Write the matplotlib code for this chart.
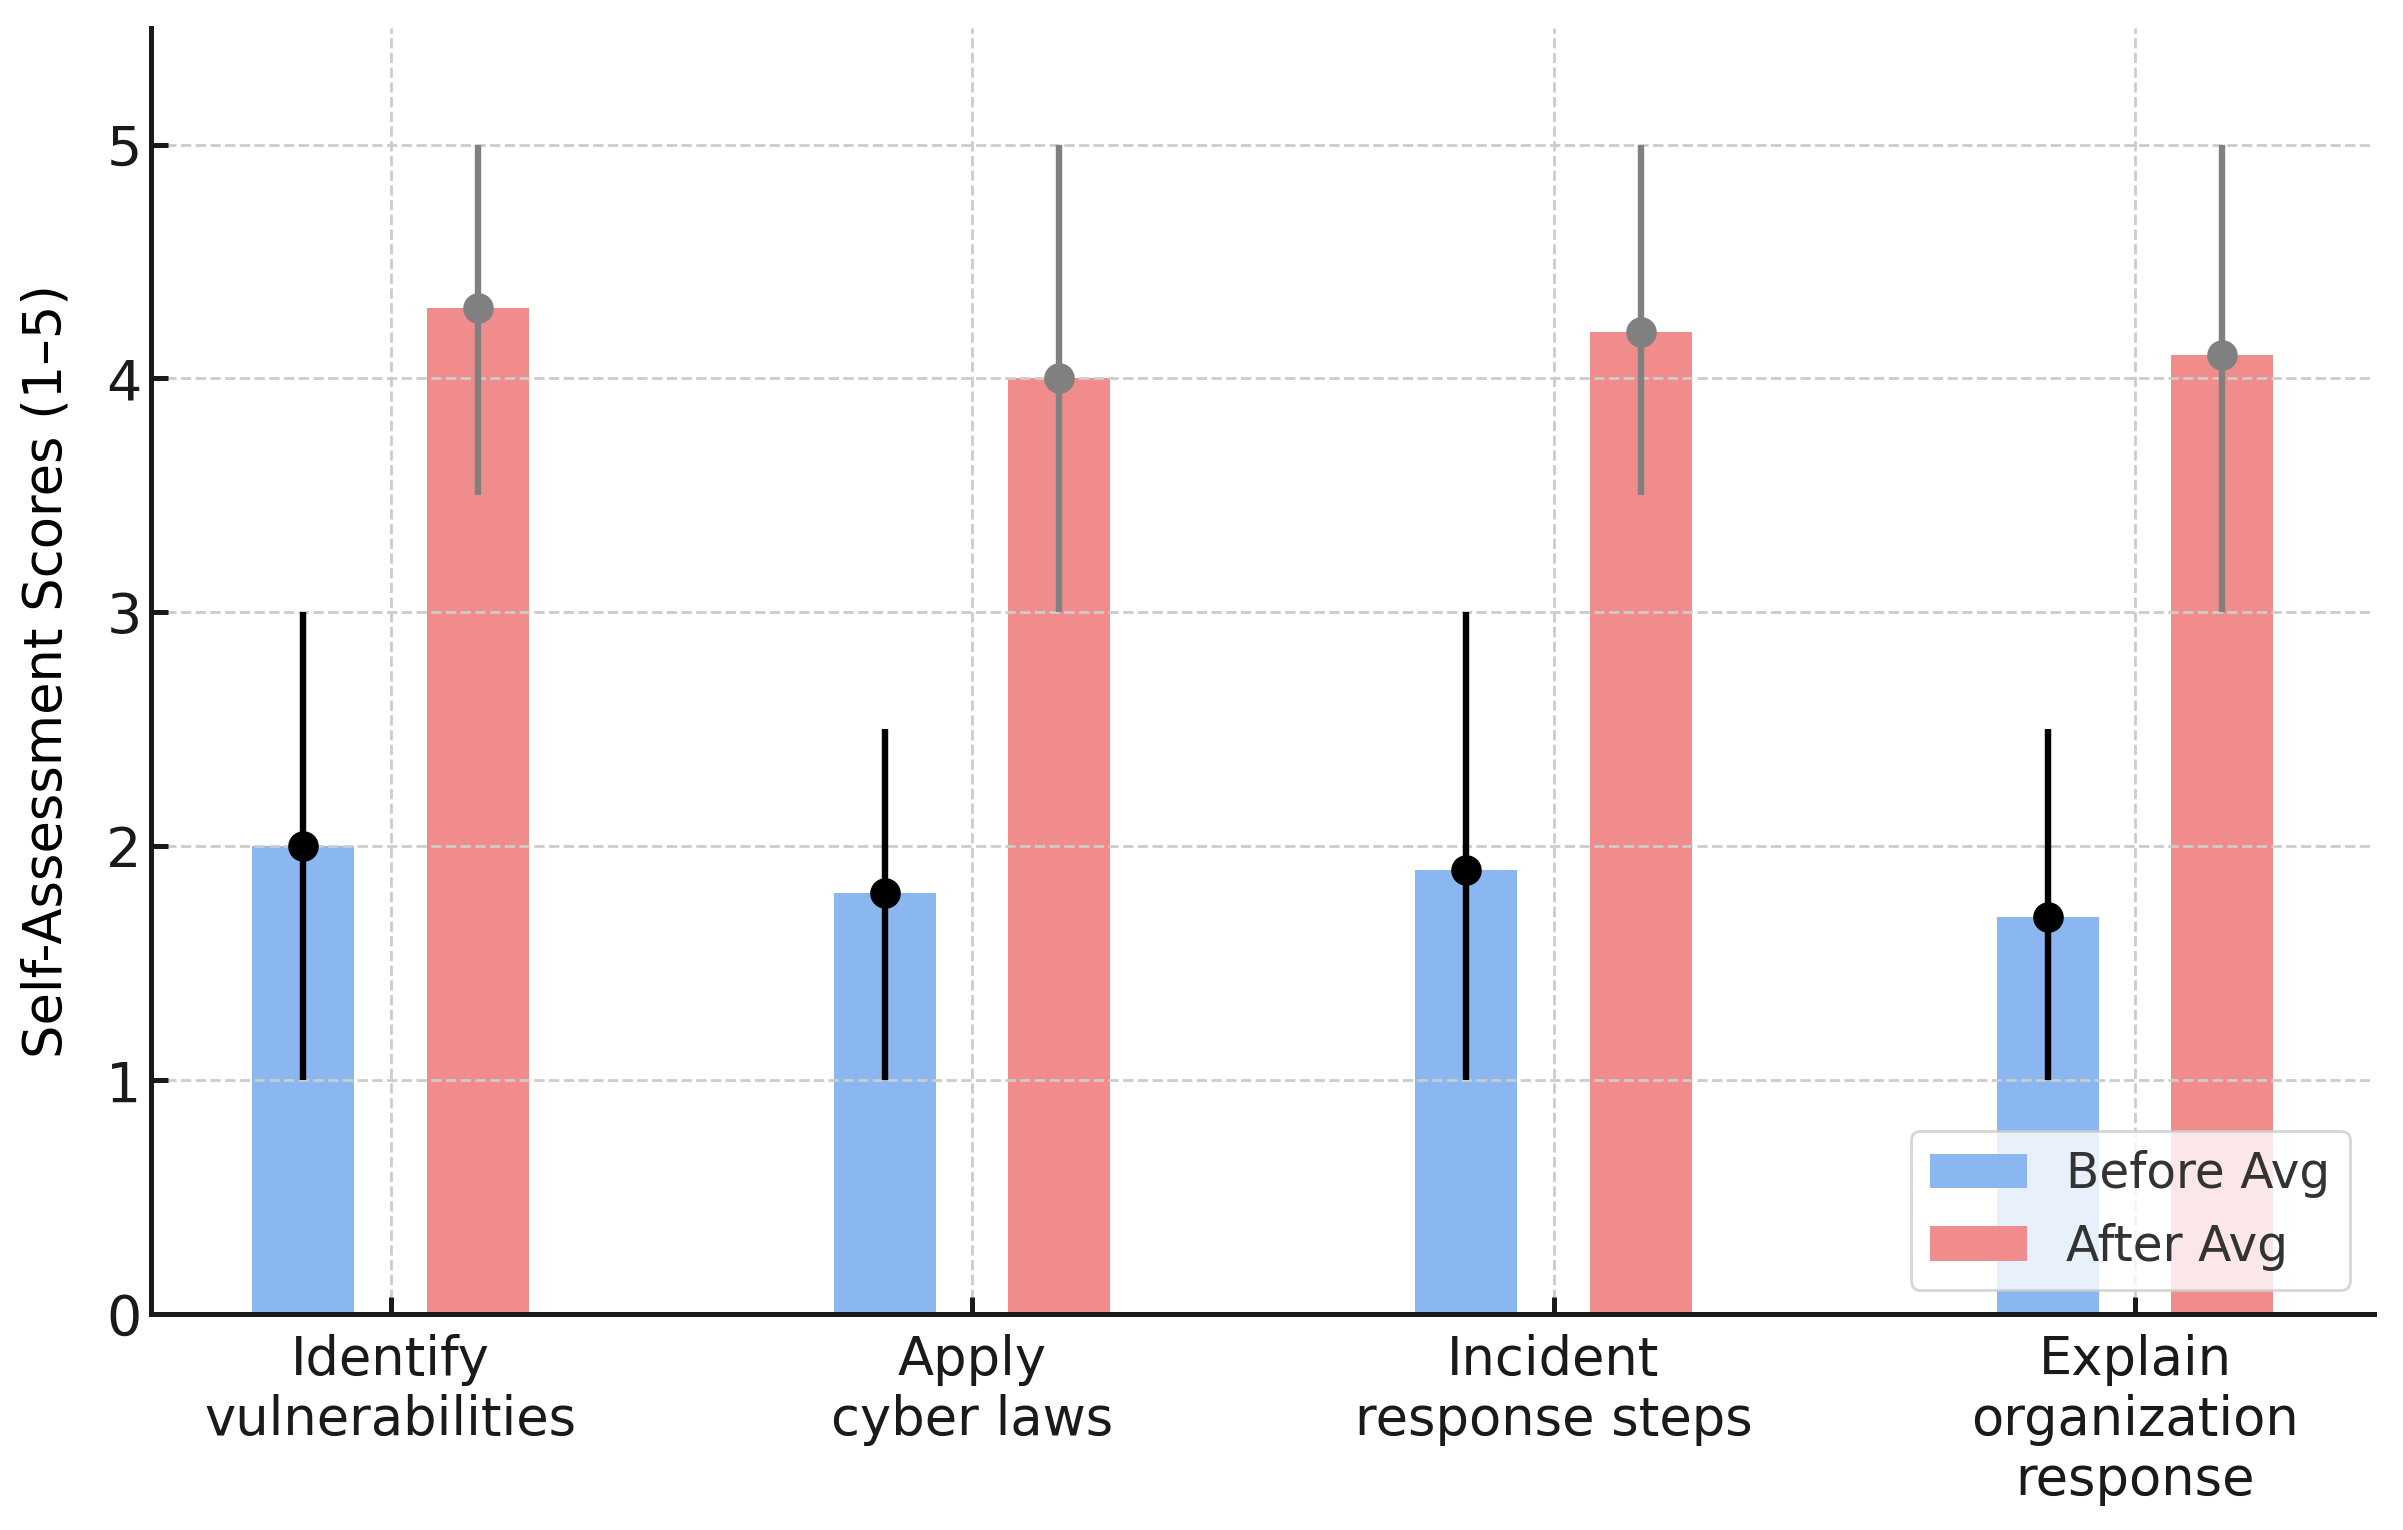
import numpy as np
import matplotlib
matplotlib.use("Agg")
import matplotlib.pyplot as plt

# skills and scores (1-5)
skills = ["Identify\nvulnerabilities", "Apply\ncyber laws",
          "Incident\nresponse steps", "Explain\norganization\nresponse"]
before_avg = [2.0, 1.8, 1.9, 1.7]
before_min = [1.0, 1.0, 1.0, 1.0]
before_max = [3.0, 2.5, 3.0, 2.5]
after_avg = [4.3, 4.0, 4.2, 4.1]
after_min = [3.5, 3.0, 3.5, 3.0]
after_max = [5.0, 5.0, 5.0, 5.0]

plt.rcParams['font.family'] = ['DejaVu Sans']

x = np.arange(len(skills))
w = 0.175
off = 0.15

fig, ax = plt.subplots(figsize=(12.015, 7.65), dpi=200)
fig.subplots_adjust(left=0.063, right=0.988, bottom=0.141, top=0.982)

ax.bar(x - off, before_avg, w, color='#8ab7f0', label='Before Avg')
ax.bar(x + off, after_avg, w, color='#f08c8c', label='After Avg')

b_err = [np.array(before_avg) - np.array(before_min), np.array(before_max) - np.array(before_avg)]
a_err = [np.array(after_avg) - np.array(after_min), np.array(after_max) - np.array(after_avg)]
ax.errorbar(x - off, before_avg, yerr=b_err, fmt='o', color='black', ecolor='black',
            elinewidth=2.3, markersize=10, capsize=0)
ax.errorbar(x + off, after_avg, yerr=a_err, fmt='o', color='gray', ecolor='gray',
            elinewidth=2.3, markersize=10, capsize=0)

ax.set_ylim(0, 5.5)
ax.set_xticks(x)
ax.set_xticklabels(skills, fontsize=19)
ax.set_yticks(range(0, 6))
ax.tick_params(axis='y', labelsize=20)
ax.tick_params(axis='x', pad=7)
ax.tick_params(direction='in', length=6, width=1.8, colors='#1a1a1a')
ax.set_ylabel("Self-Assessment Scores (1–5)", fontsize=19, labelpad=12)

for s in ['top', 'right']:
    ax.spines[s].set_visible(False)
for s in ['left', 'bottom']:
    ax.spines[s].set_linewidth(1.8)
    ax.spines[s].set_color('#1a1a1a')

ax.grid(True, linestyle='--', color='#cccccc', linewidth=1.0)
leg = ax.legend(loc='lower right', fontsize=17.5)
for t in leg.get_texts():
    t.set_color('#333333')

fig.savefig("out.png", dpi=200)
